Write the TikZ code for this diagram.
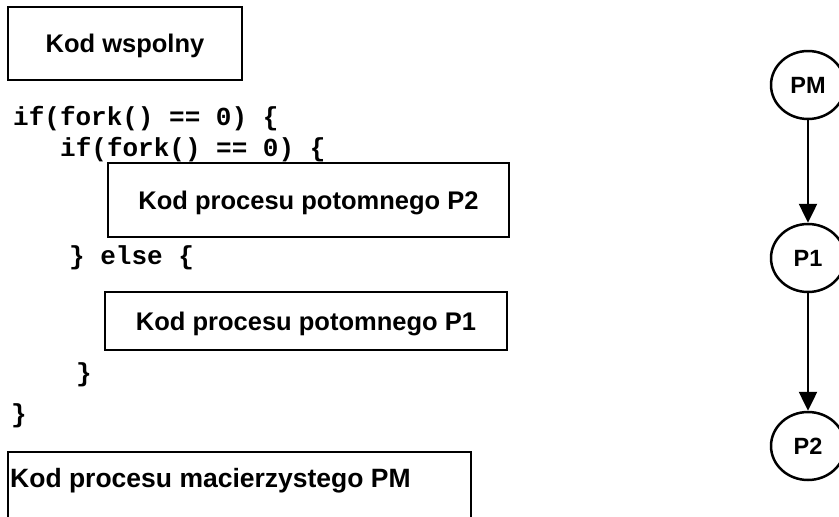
\documentclass[tikz,border=0pt]{standalone}
\usepackage{fontspec}
\setmainfont{Liberation Sans}
\setmonofont{Liberation Mono}
\usetikzlibrary{arrows.meta,shapes.geometric}

\begin{document}
\begin{tikzpicture}[x=1pt,y=-1pt,
  frame/.style={draw, line width=2.5pt, inner sep=0pt,
    font=\fontsize{25.5}{30}\selectfont\bfseries,
    text height=18.3pt, text depth=0pt},
  code/.style={anchor=base west, inner sep=0pt,
    font=\fontsize{26}{30}\selectfont\ttfamily\bfseries},
  proc/.style={ellipse, draw, line width=2.5pt, minimum width=74pt,
    minimum height=68pt, inner sep=0pt,
    font=\fontsize{23.5}{27}\selectfont\bfseries,
    text height=16.8pt, text depth=0pt},
  link/.style={line width=2.5pt, -{Triangle[length=19pt,width=18pt]}}
]
\useasboundingbox (0,0) rectangle (839,517);

% shared code
\node[frame, minimum width=234pt, minimum height=73pt] (common) at (125,43.5) {Kod wspolny};

% nested fork() listing
\node[code] (l1) at (13,125) {if(fork() == 0) \{};
\node[code] (l2) at (60,156) {if(fork() == 0) \{};
\node[frame, minimum width=401pt, minimum height=74pt] (p2code) at (308.5,200) {Kod procesu potomnego P2};
\node[code] (l3) at (69,264) {\} else \{};
\node[frame, minimum width=402pt, minimum height=58pt] (p1code) at (306,321) {Kod procesu potomnego P1};
\node[code] (l4) at (76,381) {\}};
\node[code] (l5) at (11,422) {\}};

% parent process code, frame runs past the lower edge
\draw[line width=2.5pt] (8,540) -- (8,452) -- (471,452) -- (471,540);
\node[anchor=base west, inner sep=0pt, font=\fontsize{26.5}{30}\selectfont\bfseries] (pmcode) at (10,487) {Kod procesu macierzystego PM};

% process tree
\node[proc] (pm) at (808,85) {PM};
\node[proc] (p1) at (808,258) {P1};
\node[proc] (p2) at (808,446) {P2};
\draw[link] (pm) -- (p1);
\draw[link] (p1) -- (p2);
\end{tikzpicture}
\end{document}
